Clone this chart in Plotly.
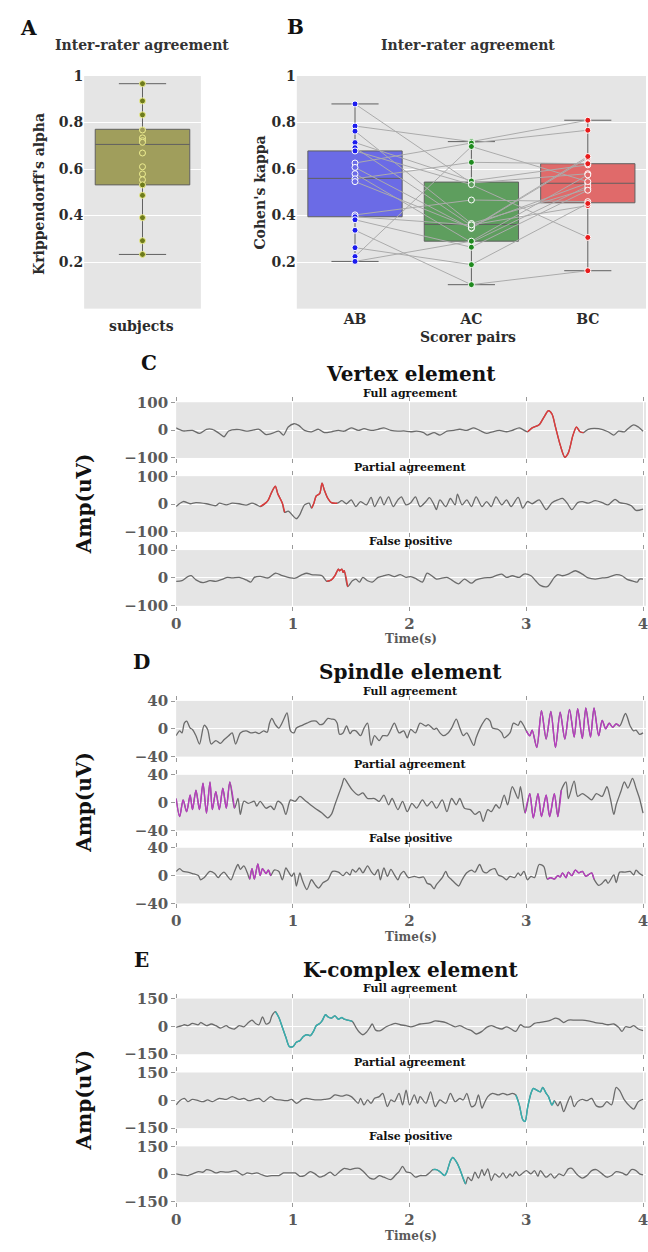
import plotly.graph_objects as go

FIG_W, FIG_H = 648, 1252
SERIF = "DejaVu Serif"

# ---------------- Panel A: Krippendorff's alpha per subject ----------------
alpha_values = [0.967, 0.893, 0.833, 0.768, 0.734, 0.722, 0.715, 0.669, 0.610,
                0.579, 0.554, 0.532, 0.487, 0.391, 0.292, 0.233]
# lower whisker, q1, median, q3, upper whisker
alpha_stats = [0.233, 0.532, 0.706, 0.771, 0.967]

# ---------------- Panel B: Cohen's kappa per scorer pair ----------------
pair_names = ["AB", "AC", "BC"]
kappa_ab = [0.880, 0.785, 0.763, 0.714, 0.692, 0.678, 0.626, 0.607, 0.580,
            0.558, 0.546, 0.403, 0.395, 0.382, 0.337, 0.262, 0.224, 0.203]
kappa_ac = [0.540, 0.718, 0.366, 0.549, 0.357, 0.533, 0.712, 0.345, 0.285,
            0.629, 0.347, 0.467, 0.360, 0.264, 0.103, 0.189, 0.697, 0.290]
kappa_bc = [0.580, 0.810, 0.515, 0.618, 0.540, 0.306, 0.767, 0.648, 0.527,
            0.623, 0.654, 0.460, 0.443, 0.509, 0.163, 0.452, 0.546, 0.575]
kappa_stats_ab = [0.203, 0.395, 0.560, 0.678, 0.880]
kappa_stats_ac = [0.103, 0.290, 0.362, 0.544, 0.718]
kappa_stats_bc = [0.163, 0.455, 0.539, 0.623, 0.810]

# ---------------- Panel C: vertex element examples (uV) ----------------
vertex_full_t = [0.00, 0.06, 0.14, 0.20, 0.26, 0.31, 0.37, 0.41, 0.45, 0.54,
                 0.60, 0.65, 0.71, 0.77, 0.82, 0.88, 0.92, 0.96, 1.01, 1.05,
                 1.10, 1.16, 1.22, 1.27, 1.33, 1.39, 1.44, 1.50, 1.56, 1.61,
                 1.67, 1.73, 1.78, 1.84, 1.90, 1.95, 2.01, 2.06, 2.12, 2.15,
                 2.21, 2.26, 2.32, 2.38, 2.43, 2.49, 2.55, 2.60, 2.66, 2.71,
                 2.77, 2.83, 2.88, 2.94, 3.01, 3.05, 3.11, 3.15, 3.19, 3.22,
                 3.25, 3.29, 3.33, 3.36, 3.40, 3.43, 3.46, 3.49, 3.53, 3.62,
                 3.70, 3.75, 3.79, 3.84, 3.87, 3.92, 3.96, 4.00]
vertex_full_v = [8, -3, -1, -12, 3, 3, -12, -24, -3, 2,
                 -4, -1, 3, -16, -12, -4, -18, 11, 23, 17,
                 -1, -6, 3, -9, -6, -1, -4, 8, -1, 5,
                 -1, 3, 8, -1, -4, -3, -6, -4, -9, -18,
                 -9, -18, -4, -1, 3, -1, 8, -1, -12, -6,
                 -1, -6, -1, 8, -6, 8, 19, 46, 70, 58,
                 11, -53, -98, -82, -18, 11, -6, -9, 3, 5,
                 -6, -18, -4, -6, 5, 19, 11, -4]
vertex_full_marks = [(3.01, 3.49)]

vertex_partial_t = [0.00, 0.06, 0.12, 0.17, 0.26, 0.34, 0.37, 0.43, 0.48, 0.54,
                    0.60, 0.65, 0.69, 0.72, 0.77, 0.79, 0.82, 0.85, 0.87, 0.91,
                    0.93, 0.96, 1.03, 1.06, 1.10, 1.14, 1.16, 1.18, 1.20, 1.23,
                    1.25, 1.27, 1.30, 1.33, 1.38, 1.42, 1.46, 1.50, 1.54, 1.58,
                    1.63, 1.67, 1.70, 1.75, 1.78, 1.82, 1.86, 1.90, 1.93, 1.97,
                    2.01, 2.05, 2.09, 2.14, 2.17, 2.21, 2.23, 2.26, 2.31, 2.35,
                    2.39, 2.41, 2.45, 2.49, 2.53, 2.57, 2.62, 2.66, 2.70, 2.74,
                    2.79, 2.83, 2.87, 2.93, 2.97, 3.01, 3.05, 3.11, 3.17, 3.22,
                    3.27, 3.31, 3.35, 3.39, 3.44, 3.48, 3.53, 3.59, 3.65, 3.70,
                    3.76, 3.80, 3.86, 3.90, 3.94, 4.00]
vertex_partial_v = [-9, 9, 1, 5, 1, -6, 3, -3, 3, 1,
                    -4, 3, -3, -9, 5, 15, 44, 64, 38, 3,
                    -30, -26, -53, -38, -3, 3, -15, 3, 29, 38,
                    75, 50, 20, 5, 3, 12, 1, 15, -9, 9,
                    -3, 24, -9, 26, -3, 26, -9, 15, 26, -3,
                    5, 26, -9, 9, 23, -3, -20, 15, -9, 20,
                    -3, 36, -3, 15, -9, 26, -9, 9, -9, 26,
                    -3, 15, -9, 24, -15, 9, 1, 15, -20, 5,
                    15, 20, 3, -20, 5, 9, 3, 12, 5, -3,
                    17, 5, 1, -6, -23, -18]
vertex_partial_marks = [(0.72, 0.93), (1.16, 1.38)]

vertex_false_t = [0.00, 0.05, 0.10, 0.13, 0.17, 0.23, 0.29, 0.34, 0.40, 0.44,
                  0.48, 0.54, 0.60, 0.64, 0.67, 0.72, 0.79, 0.85, 0.91, 0.98,
                  1.02, 1.08, 1.12, 1.16, 1.25, 1.29, 1.33, 1.36, 1.39, 1.40,
                  1.42, 1.43, 1.44, 1.47, 1.51, 1.54, 1.57, 1.60, 1.64, 1.68,
                  1.73, 1.78, 1.82, 1.87, 1.92, 1.97, 2.01, 2.06, 2.11, 2.15,
                  2.19, 2.23, 2.32, 2.36, 2.42, 2.47, 2.53, 2.57, 2.64, 2.70,
                  2.74, 2.79, 2.83, 2.88, 2.94, 2.98, 3.04, 3.08, 3.12, 3.18,
                  3.24, 3.27, 3.31, 3.36, 3.42, 3.48, 3.53, 3.59, 3.65, 3.70,
                  3.77, 3.82, 3.86, 3.92, 3.95, 3.97, 4.00]
vertex_false_v = [-12, -10, 5, 8, -7, -17, -10, -12, -4, 2,
                  0, 2, -7, -15, 2, 6, 0, 17, 8, 0,
                  -1, 12, 17, 12, 8, -12, -7, 8, 32, 26,
                  32, 20, 26, -31, -10, -4, -15, 2, -10, -15,
                  2, 8, 12, 5, 12, 2, 5, -4, -15, 17,
                  8, -4, 2, -7, -21, -4, -19, -7, 0, 2,
                  8, 14, 2, 8, 2, 14, 8, -10, -27, -31,
                  2, 12, 8, 14, 26, 14, 0, -4, 0, 2,
                  12, 8, -4, -12, -15, -4, -4]
vertex_false_marks = [(1.29, 1.47)]

# ---------------- Panel D: spindle element examples (uV) ----------------
spindle_full_t = [0.00, 0.03, 0.05, 0.07, 0.09, 0.12, 0.14, 0.17, 0.20, 0.24,
                  0.27, 0.30, 0.34, 0.38, 0.41, 0.45, 0.48, 0.51, 0.55, 0.60,
                  0.64, 0.68, 0.71, 0.75, 0.78, 0.80, 0.82, 0.85, 0.88, 0.92,
                  0.95, 0.98, 1.01, 1.03, 1.08, 1.12, 1.16, 1.20, 1.23, 1.26,
                  1.30, 1.33, 1.36, 1.38, 1.40, 1.43, 1.46, 1.49, 1.51, 1.54,
                  1.58, 1.61, 1.64, 1.67, 1.70, 1.74, 1.77, 1.81, 1.84, 1.87,
                  1.91, 1.95, 1.98, 2.01, 2.05, 2.09, 2.14, 2.16, 2.21, 2.23,
                  2.26, 2.29, 2.33, 2.36, 2.40, 2.43, 2.46, 2.49, 2.55, 2.57,
                  2.62, 2.66, 2.69, 2.71, 2.76, 2.79, 2.81, 2.86, 2.89, 2.93,
                  2.95, 2.98,
                  3.00, 3.03, 3.05, 3.09, 3.13, 3.17, 3.21, 3.25, 3.29, 3.33,
                  3.37, 3.41, 3.44, 3.48, 3.51, 3.55, 3.58, 3.62, 3.65, 3.68,
                  3.71, 3.74, 3.77, 3.80,
                  3.85, 3.89, 3.92, 3.94, 3.97, 4.00]
spindle_full_v = [-10, -3, -6, 8, 11, 1, -1, -10, -22, 5,
                  -1, -22, -17, -21, -16, -10, -6, -22, -6, -3,
                  -6, -5, -7, -3, -5, 8, 15, 6, 1, 13,
                  23, -3, -6, 1, 5, 8, 11, 11, 6, 7,
                  15, 14, 13, 8, -8, -6, 4, -7, -3, -3,
                  -10, 1, 8, -24, -10, -17, -10, -10, -1, 8,
                  -6, -3, -13, -1, -6, 8, 4, 6, -1, 1,
                  -6, -10, -6, 1, 14, 1, -10, -6, -24, -13,
                  6, 15, 11, 1, -1, -6, -13, -6, 8, 5,
                  11, 4,
                  -3, -10, -2, -27, 26, -15, 25, -27, 24, -15,
                  28, -12, 29, -14, 30, -12, 30, -10, 12, 0,
                  8, 2, 7, 4,
                  22, 4, -3, -2, -8, -6]
spindle_full_marks = [(3.00, 3.80)]

spindle_partial_t = [0.00, 0.03, 0.06, 0.09, 0.12, 0.14, 0.17, 0.20, 0.23, 0.26,
                     0.29, 0.31, 0.34, 0.37, 0.40, 0.43, 0.46, 0.50,
                     0.53, 0.55, 0.58, 0.62, 0.67, 0.69, 0.72, 0.77, 0.81, 0.84,
                     0.87, 0.91, 0.94, 0.98, 1.02, 1.06, 1.10, 1.15, 1.19, 1.25,
                     1.30, 1.33, 1.36, 1.39, 1.42, 1.44, 1.47, 1.51, 1.56, 1.60,
                     1.64, 1.70, 1.74, 1.78, 1.82, 1.85, 1.90, 1.94, 1.98, 2.02,
                     2.06, 2.11, 2.15, 2.19, 2.23, 2.28, 2.32, 2.36, 2.40, 2.43,
                     2.47, 2.52, 2.56, 2.60, 2.63, 2.67, 2.70, 2.74, 2.77, 2.81,
                     2.84, 2.88, 2.93, 2.95,
                     2.99, 3.03, 3.06, 3.10, 3.13, 3.17, 3.20, 3.24, 3.27, 3.30,
                     3.34, 3.36, 3.41, 3.44, 3.48, 3.52, 3.56, 3.60, 3.65, 3.69,
                     3.72, 3.75, 3.77, 3.81, 3.84, 3.87, 3.91, 3.94, 3.97, 4.00]
spindle_partial_v = [6, -20, 4, -13, 11, -10, 18, -10, 28, -15,
                     30, -10, 16, -10, 21, -8, 30, -8,
                     6, -17, 2, -1, 2, -5, 2, -8, -5, -10,
                     2, -3, -17, 4, 2, 9, 4, -3, -8, -15,
                     -22, -17, -3, 11, 25, 35, 28, 18, 11, 14,
                     6, 6, 2, 11, -3, 6, -10, 2, -13, -1,
                     -8, 4, -5, 2, -8, 4, -13, 6, -3, 6,
                     -8, -10, -17, -13, -27, -10, -13, -3, -8, 11,
                     -3, 23, 6, 23,
                     -15, 13, -22, 13, -20, 11, -20, 13, -20, 18,
                     30, 6, 31, 9, 13, 9, 4, 13, 9, 23,
                     6, -17, -3, 16, 30, 21, 35, 21, 6, -15]
spindle_partial_marks = [(0.00, 0.50), (2.99, 3.30)]

spindle_false_t = [0.00, 0.03, 0.06, 0.10, 0.14, 0.19, 0.21, 0.24, 0.29, 0.33,
                   0.36, 0.38, 0.41, 0.44, 0.47, 0.50, 0.53, 0.55, 0.58, 0.61,
                   0.63, 0.65, 0.67, 0.70, 0.72, 0.74, 0.77, 0.79, 0.81, 0.84,
                   0.88, 0.91, 0.94, 0.96, 0.99, 1.01, 1.03, 1.06, 1.08, 1.12,
                   1.16, 1.19, 1.22, 1.26, 1.30, 1.34, 1.39, 1.43, 1.46, 1.49,
                   1.51, 1.54, 1.57, 1.60, 1.64, 1.67, 1.70, 1.73, 1.75, 1.78,
                   1.81, 1.84, 1.87, 1.90, 1.92, 1.95, 1.99, 2.04, 2.08, 2.12,
                   2.15, 2.18, 2.21, 2.23, 2.28, 2.31, 2.33, 2.36, 2.39, 2.42,
                   2.45, 2.49, 2.53, 2.56, 2.60, 2.63, 2.66, 2.69, 2.73, 2.76,
                   2.80, 2.83, 2.86, 2.90, 2.93, 2.95, 2.98, 3.01, 3.04, 3.07,
                   3.11, 3.15, 3.18, 3.21, 3.24, 3.27, 3.29, 3.31, 3.34, 3.36,
                   3.39, 3.42, 3.45, 3.48, 3.51, 3.53, 3.56, 3.58, 3.62, 3.65,
                   3.68, 3.70, 3.75, 3.77, 3.80, 3.84, 3.89, 3.92, 3.94, 3.97,
                   4.00]
spindle_false_v = [6, 10, 6, 5, 3, 0, -6, -3, 6, 3,
                   -3, 1, 5, -1, -6, 6, 16, 9, 14, 4,
                   -5, 10, -5, 17, 0, 10, 3, 8, 0, 8,
                   6, -6, 11, 6, -1, 4, -15, 4, -6, -20,
                   -6, -13, -18, -10, -6, 6, 5, 0, 5, 1,
                   9, 5, 11, 4, 14, 6, 1, 9, -6, 11,
                   -1, 9, 1, -6, 1, 6, -3, -1, -3, -2,
                   -11, -13, -19, -13, -3, 6, -1, -6, -11, -15,
                   -6, 4, 8, 5, 16, 6, 4, 8, 10, 1,
                   -2, -6, -1, -3, 4, 0, 6, -6, -1, -3,
                   16, 13, -5, -3, -5, 0, -2, 4, -3, 5,
                   0, 8, 4, 6, -1, 1, 4, -5, -14, -11,
                   -6, -11, 1, -10, 5, 5, 6, 1, 8, 3,
                   0]
spindle_false_marks = [(0.63, 0.81), (3.18, 3.58)]

# ---------------- Panel E: K-complex element examples (uV) ----------------
kcomplex_full_t = [0.00, 0.05, 0.07, 0.10, 0.14, 0.19, 0.21, 0.26, 0.30, 0.34,
                   0.38, 0.43, 0.45, 0.50, 0.54, 0.58, 0.62, 0.65, 0.68, 0.71,
                   0.74, 0.77, 0.80, 0.82, 0.85, 0.88, 0.91, 0.94, 0.97, 1.00,
                   1.03, 1.06, 1.09, 1.12, 1.15, 1.18, 1.20, 1.23, 1.25, 1.28,
                   1.30, 1.33, 1.36, 1.39, 1.42, 1.44, 1.47, 1.51, 1.54, 1.57,
                   1.60, 1.63, 1.66, 1.68, 1.71, 1.75, 1.80, 1.84, 1.88, 1.92,
                   1.97, 2.01, 2.05, 2.09, 2.14, 2.18, 2.22, 2.26, 2.31, 2.35,
                   2.39, 2.43, 2.49, 2.53, 2.57, 2.62, 2.66, 2.70, 2.74, 2.79,
                   2.83, 2.87, 2.91, 2.95, 2.98, 3.03, 3.07, 3.11, 3.17, 3.21,
                   3.25, 3.28, 3.32, 3.36, 3.42, 3.48, 3.53, 3.59, 3.65, 3.70,
                   3.75, 3.79, 3.82, 3.85, 3.89, 3.92, 3.96, 4.00]
kcomplex_full_v = [-5, 4, 9, 4, 16, 9, 21, 4, 13, 4,
                   -9, 4, -5, -14, 4, -2, 21, 34, 16, 9,
                   52, 13, 21, 57, 80, 48, -5, -59, -109, -109,
                   -86, -77, -55, -45, -50, -23, 4, 16, 30, 63,
                   52, 45, 57, 39, 48, 39, 34, 27, -5, -32,
                   -45, -32, -5, 13, -20, -23, -2, 9, 16, 9,
                   4, -2, 4, 13, 16, 21, 30, 27, 21, 9,
                   -2, 4, -14, -23, -41, -27, -5, 4, -5, -14,
                   -2, -14, -27, 9, -2, -2, 16, 21, 27, 34,
                   45, 39, 21, 34, 34, 34, 30, 21, 16, 9,
                   13, -5, -27, -2, -5, 4, -14, -23]
kcomplex_full_marks = [(0.85, 1.51)]

kcomplex_partial_t = [0.00, 0.03, 0.07, 0.10, 0.14, 0.19, 0.23, 0.27, 0.31, 0.37,
                      0.43, 0.48, 0.54, 0.58, 0.62, 0.67, 0.71, 0.75, 0.81, 0.85,
                      0.89, 0.95, 0.99, 1.03, 1.08, 1.12, 1.16, 1.22, 1.27, 1.32,
                      1.36, 1.42, 1.46, 1.50, 1.53, 1.56, 1.58, 1.61, 1.64, 1.67,
                      1.70, 1.74, 1.77, 1.81, 1.84, 1.87, 1.91, 1.94, 1.97, 2.00,
                      2.04, 2.07, 2.09, 2.14, 2.18, 2.22, 2.26, 2.31, 2.35, 2.39,
                      2.43, 2.46, 2.49, 2.53, 2.56, 2.59, 2.62, 2.64, 2.67, 2.71,
                      2.76, 2.80, 2.84, 2.88, 2.91, 2.94, 2.97, 2.99, 3.01, 3.04,
                      3.06, 3.09, 3.12, 3.14, 3.17, 3.19, 3.22, 3.24, 3.27, 3.29,
                      3.32, 3.35, 3.38, 3.41, 3.44, 3.48, 3.52, 3.56, 3.60, 3.65,
                      3.69, 3.73, 3.77, 3.80, 3.84, 3.89, 3.92, 3.96, 4.00]
kcomplex_partial_v = [-25, -2, 11, -7, 5, -2, -7, 2, -7, 11,
                      5, 20, 5, 11, -2, 5, 11, -7, 20, 5,
                      2, -2, 5, -16, 5, 11, 5, 2, 5, 11,
                      29, 23, 29, 20, 2, -16, 11, -25, 2, -16,
                      11, 20, 38, -34, 2, -7, 38, -25, 55, -25,
                      29, -16, 20, -16, 46, -34, 2, -16, 38, -7,
                      11, 2, 38, -34, -25, 29, -43, -16, 20, 38,
                      29, 38, 29, 38, 29, -25, -105, -114, -43, 38,
                      64, 55, 46, 70, 38, 20, -25, -2, -30, -7,
                      -61, -16, 23, -34, -7, 5, -2, 11, -30, -34,
                      -7, -25, 70, 52, 2, -34, -48, -7, 5]
kcomplex_partial_marks = [(2.91, 3.24)]

kcomplex_false_t = [0.00, 0.05, 0.10, 0.14, 0.19, 0.23, 0.26, 0.30, 0.34, 0.38,
                    0.43, 0.47, 0.51, 0.54, 0.57, 0.61, 0.65, 0.69, 0.74, 0.78,
                    0.82, 0.88, 0.92, 0.98, 1.02, 1.06, 1.10, 1.15, 1.19, 1.23,
                    1.27, 1.32, 1.36, 1.40, 1.44, 1.49, 1.53, 1.57, 1.61, 1.66,
                    1.70, 1.74, 1.78, 1.84, 1.88, 1.91, 1.94, 1.97, 2.01, 2.05,
                    2.09, 2.14, 2.18, 2.20, 2.23, 2.26, 2.30, 2.32, 2.35, 2.37,
                    2.40, 2.43, 2.45, 2.48, 2.50, 2.53, 2.56, 2.59, 2.62, 2.64,
                    2.67, 2.70, 2.73, 2.77, 2.80, 2.83, 2.86, 2.88, 2.91, 2.94,
                    2.97, 3.00, 3.04, 3.07, 3.10, 3.12, 3.17, 3.21, 3.24, 3.28,
                    3.32, 3.36, 3.39, 3.43, 3.48, 3.52, 3.56, 3.60, 3.65, 3.69,
                    3.73, 3.77, 3.82, 3.86, 3.90, 3.94, 3.97, 4.00]
kcomplex_false_v = [2, -4, -7, 2, 14, 11, 25, 20, 7, 14,
                    11, 14, 20, 7, -4, 7, 2, 7, -4, -11,
                    -7, -7, 7, 7, 7, -11, -7, 14, 2, -16,
                    -7, 11, -7, 14, 32, 25, 32, 32, 11, -21,
                    -25, -7, -16, -29, -4, 14, 43, 14, 7, -16,
                    -7, -7, 14, 25, 25, 14, -7, 14, 73, 91,
                    68, 29, -7, -52, -16, -34, 11, -21, 25, -7,
                    29, -34, 2, -16, 7, -21, 2, -11, 14, -7,
                    7, 20, 2, 20, -11, 20, -16, 2, -21, 2,
                    -7, 29, 32, 2, -21, -7, 20, 25, 2, -16,
                    -7, 14, 7, -4, 25, 20, 2, -4]
kcomplex_false_marks = [(2.20, 2.48)]

row_titles = ["Full agreement", "Partial agreement", "False positive"]
time_ticks = [0, 1, 2, 3, 4]

# ---------------- styling ----------------
BG = "#e5e5e5"
TRACE_GRAY = "#6b6b6b"
TICK_GRAY = "#5a5a5a"
DARK = "#2b2b2b"


def px_x(p):
    return p / FIG_W


def px_y(p):
    return 1 - p / FIG_H


def bold(size, color=DARK):
    return dict(family=SERIF, size=size, color=color, weight="bold")


fig = go.Figure()
layout = dict(
    width=FIG_W, height=FIG_H,
    margin=dict(l=0, r=0, t=0, b=0),
    paper_bgcolor="white", plot_bgcolor=BG,
    showlegend=False, annotations=[],
)
ann = layout["annotations"]


def text(s, x, y, size, color=DARK, angle=0):
    ann.append(dict(text=s, x=px_x(x), y=px_y(y), xref="paper", yref="paper",
                    showarrow=False, font=bold(size, color), textangle=angle,
                    xanchor="center", yanchor="middle"))


def box(stats, pos, fill, xa, ya):
    lo, q1, med, q3, hi = stats
    fig.add_trace(go.Box(
        x=[pos], q1=[q1], median=[med], q3=[q3], lowerfence=[lo], upperfence=[hi],
        fillcolor=fill, line=dict(color="#606060", width=1), whiskerwidth=0.5,
        width=0.81, boxpoints=False, hoverinfo="skip", xaxis=xa, yaxis=ya))


def dots(pos, values, color, fill_in_box, edge, stats, xa, ya):
    lo, q1, med, q3, hi = stats
    colors = [fill_in_box if q1 < v < q3 else color for v in values]
    fig.add_trace(go.Scatter(
        x=[pos] * len(values), y=values, mode="markers",
        marker=dict(size=6, color=colors, line=dict(color=edge, width=1)),
        hoverinfo="skip", xaxis=xa, yaxis=ya))


score_axis = dict(range=[0, 1], tickvals=[0.2, 0.4, 0.6, 0.8, 1.0],
                  ticktext=["0.2", "0.4", "0.6", "0.8", "1"],
                  tickfont=bold(14, DARK), showgrid=True, gridcolor="white",
                  gridwidth=1, zeroline=False, ticks="", showline=False)

# ---- Panel A ----
layout["xaxis"] = dict(domain=[px_x(80), px_x(198)], range=[-0.5, 0.5],
                       showticklabels=False, showgrid=False, zeroline=False,
                       anchor="y")
layout["yaxis"] = dict(domain=[px_y(304), px_y(68)], anchor="x", **score_axis)
box(alpha_stats, 0, "#a09e5c", "x", "y")
dots(0, alpha_values, "#6e7b1c", "#a09e5c", "#eeee90", alpha_stats, "x", "y")
text("A", 24, 19, 20, "#111")
text("Inter-rater agreement", 138, 37, 14, "#333")
text("Krippendorff's alpha", 35, 188, 14, DARK, angle=-90)
text("subjects", 138, 322, 14, DARK)

# ---- Panel B ----
layout["xaxis2"] = dict(domain=[px_x(295), 1.0], range=[-0.5, 2.5],
                        tickvals=[0, 1, 2], ticktext=pair_names,
                        tickfont=bold(14, DARK), showgrid=False, zeroline=False,
                        ticks="", anchor="y2")
layout["yaxis2"] = dict(domain=[px_y(304), px_y(68)], anchor="x2", **score_axis)
pair_vals = [kappa_ab, kappa_ac, kappa_bc]
pair_stats = [kappa_stats_ab, kappa_stats_ac, kappa_stats_bc]
pair_fill = ["#6b6be6", "#5e9e5e", "#e06a6a"]
pair_dot = ["#1c1cee", "#1f8a1f", "#e81c1c"]
for i in range(3):
    box(pair_stats[i], i, pair_fill[i], "x2", "y2")
lx, ly = [], []
for a, b, c in zip(kappa_ab, kappa_ac, kappa_bc):
    lx += [0, 1, 2, None]
    ly += [a, b, c, None]
fig.add_trace(go.Scatter(x=lx, y=ly, mode="lines",
                         line=dict(color="#ababab", width=1),
                         hoverinfo="skip", xaxis="x2", yaxis="y2"))
for i in range(3):
    dots(i, pair_vals[i], pair_dot[i], pair_fill[i], "white", pair_stats[i],
         "x2", "y2")
text("B", 294, 18, 20, "#111")
text("Inter-rater agreement", 468, 37, 14, "#333")
text("Cohen's kappa", 258, 186, 14, DARK, angle=-90)
text("Scorer pairs", 468, 333, 14, DARK)

# ---- Panels C, D, E ----
panels = [
    dict(letter="C", title="Vertex element", amp=100, color="#e03a3a",
         rows=[(vertex_full_t, vertex_full_v, vertex_full_marks),
               (vertex_partial_t, vertex_partial_v, vertex_partial_marks),
               (vertex_false_t, vertex_false_v, vertex_false_marks)],
         tops=[399, 474, 549], letter_xy=(146, 359), title_y=370,
         sub_y=[390, 465, 540], tick_y=621, time_y=639),
    dict(letter="D", title="Spindle element", amp=40, color="#b83cc0",
         rows=[(spindle_full_t, spindle_full_v, spindle_full_marks),
               (spindle_partial_t, spindle_partial_v, spindle_partial_marks),
               (spindle_false_t, spindle_false_v, spindle_false_marks)],
         tops=[702, 777, 851], letter_xy=(138, 663), title_y=673,
         sub_y=[692, 767, 842], tick_y=923, time_y=942),
    dict(letter="E", title="K-complex element", amp=150, color="#34b0b0",
         rows=[(kcomplex_full_t, kcomplex_full_v, kcomplex_full_marks),
               (kcomplex_partial_t, kcomplex_partial_v, kcomplex_partial_marks),
               (kcomplex_false_t, kcomplex_false_v, kcomplex_false_marks)],
         tops=[1004, 1079, 1154], letter_xy=(138, 965), title_y=975,
         sub_y=[994, 1069, 1144], tick_y=1226, time_y=1245),
]
BAND_H = 56.5
X_LEFT = 173
x_max = 4.0 * (FIG_W - X_LEFT) / (645 - X_LEFT)

n = 3
for p in panels:
    amp = p["amp"]
    for r, (ts, vs, marks) in enumerate(p["rows"]):
        if len(ts) != len(vs):
            raise ValueError(f"{p['title']} row {r}: {len(ts)} times vs {len(vs)} values")
        xa, ya = f"x{n}", f"y{n}"
        top = p["tops"][r]
        layout[f"xaxis{n}"] = dict(
            domain=[px_x(X_LEFT), 1.0], range=[0, x_max], anchor=ya,
            tickvals=time_ticks, showticklabels=(r == 2),
            ticklabeloverflow="allow",
            tickfont=bold(15, TICK_GRAY), ticks="outside", ticklen=4,
            tickcolor="#9a9a9a", mirror="ticks", showgrid=True,
            gridcolor="white", gridwidth=1, zeroline=False, showline=False)
        layout[f"yaxis{n}"] = dict(
            domain=[px_y(top + BAND_H), px_y(top)], anchor=xa,
            range=[-amp * 1.004, amp * 1.004], tickvals=[-amp, 0, amp],
            tickfont=bold(15, TICK_GRAY), ticks="outside", ticklen=4,
            tickcolor="#9a9a9a", showgrid=True, gridcolor="white", gridwidth=1,
            zeroline=False, showline=False)
        fig.add_trace(go.Scatter(
            x=ts, y=vs, mode="lines",
            line=dict(color=TRACE_GRAY, width=1.3, shape="spline", smoothing=0.8),
            hoverinfo="skip", xaxis=xa, yaxis=ya))
        for a, b in marks:
            seg = [(t, v) for t, v in zip(ts, vs) if a - 1e-9 <= t <= b + 1e-9]
            fig.add_trace(go.Scatter(
                x=[s[0] for s in seg], y=[s[1] for s in seg], mode="lines",
                line=dict(color=p["color"], width=1.4, shape="spline",
                          smoothing=0.8),
                hoverinfo="skip", xaxis=xa, yaxis=ya))
        text(row_titles[r], 410, p["sub_y"][r], 11, "#111")
        n += 1
    text(p["letter"], p["letter_xy"][0], p["letter_xy"][1], 20, "#111")
    text(p["title"], 410, p["title_y"], 20, "#111")
    text("Time(s)", 410, p["time_y"], 12, TICK_GRAY)
    text("Amp(uV)", 80, p["tops"][1] + BAND_H / 2, 20, "#111", angle=-90)

fig.update_layout(**layout)
fig.write_html("out.html")
